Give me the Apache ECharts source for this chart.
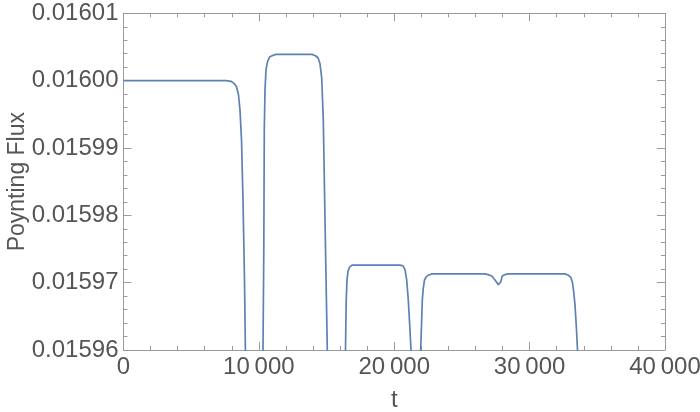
<!DOCTYPE html>
<html>
<head>
<meta charset="utf-8">
<script src="https://cdn.jsdelivr.net/npm/echarts@6/dist/echarts.min.js"></script>
<style>html,body{margin:0;padding:0;background:#fff;}#c{width:700px;height:412px;}</style>
</head>
<body>
<div id="c"></div>
<script>
// time values (t)
var tValues = [
  0, 4000, 7572, 7941, 8163, 8347, 8495, 8606, 8717, 8827, 8938, 9005, 9300, 10000,
  10305, 10364, 10400, 10452, 10526, 10637, 10785, 10970, 11265, 13924, 14183, 14368, 14516, 14641, 14759, 14885, 15055, 15400, 16100,
  16399, 16451, 16510, 16584, 16695, 16879, 20425, 20646, 20795, 20920, 21038, 21142, 21238, 21500, 21700,
  21954, 22072, 22146, 22235, 22346, 22494, 22789, 26704, 26926, 27199, 27443, 27687, 27760, 27864, 27982, 28182, 28403,
  32614, 32872, 33034, 33153, 33242, 33352, 33463, 33537, 34000
];
// Poynting flux values (values below 0.01596 leave the visible range)
var fluxValues = [
  0.0160000, 0.0160000, 0.0160000, 0.0159999, 0.0159996, 0.0159991, 0.0159979, 0.0159956, 0.0159912, 0.0159823, 0.0159704, 0.0159600, 0.0159000, 0.0159000,
  0.0159600, 0.0159749, 0.0159927, 0.0159986, 0.0160016, 0.0160028, 0.0160035, 0.0160037, 0.0160039, 0.0160039, 0.0160037, 0.0160034, 0.0160025, 0.0160004, 0.0159942, 0.0159793, 0.0159600, 0.0159000, 0.0159000,
  0.0159600, 0.0159674, 0.0159704, 0.0159717, 0.0159723, 0.0159726, 0.0159726, 0.0159725, 0.0159719, 0.0159704, 0.0159674, 0.0159637, 0.0159600, 0.0159000, 0.0159000,
  0.0159600, 0.0159674, 0.0159692, 0.0159704, 0.0159708, 0.0159711, 0.0159713, 0.0159713, 0.0159712, 0.0159710, 0.0159704, 0.0159697, 0.0159695, 0.0159701, 0.0159710, 0.0159712, 0.0159713,
  0.0159713, 0.0159711, 0.0159708, 0.0159701, 0.0159689, 0.0159667, 0.0159630, 0.0159600, 0.0159000
];
var xMin = 0, xMax = 40000, xStep = 10000;
var yMin = 0.01596, yMax = 0.01601, yStep = 0.00001;
var xTitle = 't';
var yTitle = 'Poynting Flux';

var pts = tValues.map(function (t, i) { return [t, fluxValues[i]]; });

var frameColor = '#9a9a9a';
var labelColor = '#555555';
var fontFam = '"Liberation Sans", Arial, sans-serif';

function xAxisDef(pos, show) {
  return {
    type: 'value', position: pos, min: xMin, max: xMax, interval: xStep,
    name: show ? xTitle : '', nameLocation: 'middle', nameGap: 38, nameMoveOverlap: false,
    nameTextStyle: { color: labelColor, fontSize: 24, fontFamily: fontFam },
    axisLine: { show: true, onZero: false, lineStyle: { color: frameColor, width: 1 } },
    axisTick: { show: true, inside: true, length: 8, lineStyle: { color: frameColor } },
    minorTick: { show: true, splitNumber: 5, length: 4, lineStyle: { color: frameColor } },
    splitLine: { show: false },
    axisLabel: {
      show: show, color: labelColor, fontSize: 24, fontFamily: fontFam, margin: 5,
      formatter: function (v) { return String(v).replace(/(\d)(\d{3})$/, '$1\u2009$2'); }
    }
  };
}
function yAxisDef(pos, show) {
  return {
    type: 'value', position: pos, min: yMin, max: yMax, interval: yStep,
    name: show ? yTitle : '', nameLocation: 'middle', nameGap: 94, nameRotate: 90, nameMoveOverlap: false,
    nameTextStyle: { color: labelColor, fontSize: 23, fontFamily: fontFam },
    axisLine: { show: true, onZero: false, lineStyle: { color: frameColor, width: 1 } },
    axisTick: { show: true, inside: true, length: 8, lineStyle: { color: frameColor } },
    minorTick: { show: true, splitNumber: 5, length: 4, lineStyle: { color: frameColor } },
    splitLine: { show: false },
    axisLabel: {
      show: show, color: labelColor, fontSize: 24, fontFamily: fontFam, margin: 5,
      formatter: function (v) { return v.toFixed(5); }
    }
  };
}

var chart = echarts.init(document.getElementById('c'), null, { renderer: 'canvas' });
chart.setOption({
  animation: false,
  backgroundColor: '#ffffff',
  grid: { left: 123.5, right: 35, top: 13.3, bottom: 62, containLabel: false, outerBoundsMode: 'none' },
  xAxis: [xAxisDef('bottom', true), xAxisDef('top', false)],
  yAxis: [yAxisDef('left', true), yAxisDef('right', false)],
  series: [{
    type: 'line', data: pts, xAxisIndex: 0, yAxisIndex: 0,
    showSymbol: false, symbol: 'none', clip: true, smooth: false,
    lineStyle: { color: '#5E81B5', width: 1.7 }
  }]
});
</script>
</body>
</html>
